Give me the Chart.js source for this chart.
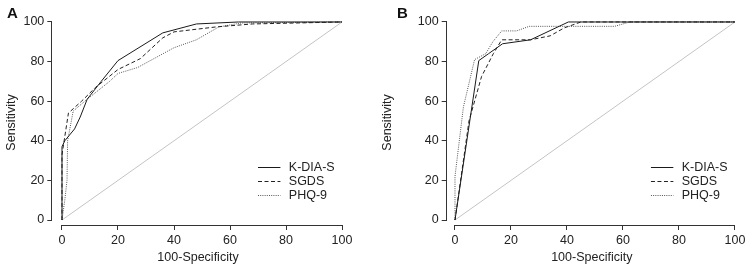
<!DOCTYPE html>
<html><head><meta charset="utf-8">
<script src="https://cdn.jsdelivr.net/npm/chart.js@4"></script>
<style>
html,body{margin:0;padding:0;background:#fff;}
#wrap{position:relative;width:752px;height:272px;overflow:hidden;background:#fff;}
.panel{position:absolute;top:0;width:376px;height:272px;}
.lab{position:absolute;font:bold 15px "Liberation Sans",Arial,sans-serif;color:#111;line-height:15px;}
</style></head><body>
<div id="wrap">
<div class="panel" style="left:0"><canvas id="cA" width="376" height="272"></canvas></div>
<div class="panel" style="left:376px"><canvas id="cB" width="376" height="272"></canvas></div>
<div class="lab" style="left:7px;top:5px">A</div>
<div class="lab" style="left:397px;top:5px">B</div>
</div>
<script>
// ---- data ----
const seriesNames = ['K-DIA-S', 'SGDS', 'PHQ-9'];
const xTicks = [0, 20, 40, 60, 80, 100];
const yTicks = [0, 20, 40, 60, 80, 100];
const xTitle = '100-Specificity';
const yTitle = 'Sensitivity';

// Panel A
const aKdiaX = [0, 0, 1, 4.5, 6.5, 9, 14, 20, 36, 48, 63, 100];
const aKdiaY = [0, 37, 40, 46, 52, 61, 70, 80.5, 94.5, 99, 100, 100];
const aSgdsX = [0, 0, 2.3, 7, 12, 20, 28, 36, 40, 55, 68, 100];
const aSgdsY = [0, 33, 54, 60, 67, 76, 81.5, 92, 95, 97.5, 99, 100];
const aPhqX = [0, 1, 1.8, 2, 4, 9, 17, 20, 27, 40, 48, 56, 64, 100];
const aPhqY = [0, 10, 20, 40, 55, 61, 70, 74, 77, 87, 91, 97.5, 99.5, 100];

// Panel B
const bKdiaX = [0, 8.5, 12, 17, 27, 40.5, 100];
const bKdiaY = [0, 80.5, 84, 89, 91, 100, 100];
const bSgdsX = [0, 5, 9.5, 13.7, 16.7, 27, 34, 39, 45, 100];
const bSgdsY = [0, 50, 72.5, 84, 91, 91, 93, 97, 100, 100];
const bPhqX = [0, 0, 3, 7, 11, 13.5, 16.7, 22, 26.5, 57, 62.5, 100];
const bPhqY = [0, 22, 57, 81, 84, 90, 95.5, 95.5, 97.8, 97.8, 100, 100];

const diagX = [0, 100];
const diagY = [0, 100];

// ---- helpers ----
const pts = (xs, ys) => xs.map((x, i) => ({x: x, y: ys[i]}));
Chart.defaults.font.family = '"Liberation Sans", Arial, Helvetica, sans-serif';
Chart.defaults.color = '#222';

const lineStyles = [
  {borderColor: '#1a1a1a', borderDash: []},
  {borderColor: '#222', borderDash: [4, 2.5]},
  {borderColor: '#555', borderDash: [1, 1.2]}
];

const rPlugin = {
  id: 'rStyle',
  afterDraw(chart) {
    const {ctx, chartArea, scales} = chart;
    const x = scales.x, y = scales.y;
    ctx.save();
    ctx.strokeStyle = '#333';
    ctx.lineWidth = 1;
    ctx.setLineDash([]);
    const lx = Math.round(chartArea.left) - 0.5;
    const by = Math.round(chartArea.bottom) + 0.5;
    ctx.beginPath();
    ctx.moveTo(lx, y.getPixelForValue(yTicks[0]));
    ctx.lineTo(lx, y.getPixelForValue(yTicks[yTicks.length - 1]));
    ctx.moveTo(x.getPixelForValue(xTicks[0]), by);
    ctx.lineTo(x.getPixelForValue(xTicks[xTicks.length - 1]), by);
    ctx.stroke();
    // legend
    const ds = chart.data.datasets.filter(d => seriesNames.includes(d.label));
    const x0 = x.getPixelForValue(70), x1 = x.getPixelForValue(78);
    const tx = x.getPixelForValue(81);
    const y0 = y.getPixelForValue(26.8);
    ctx.font = '12.5px "Liberation Sans", Arial, sans-serif';
    ctx.textBaseline = 'middle';
    ctx.textAlign = 'left';
    ds.forEach((d, i) => {
      const yy = Math.round(y0 + i * 14) + 0.5;
      ctx.strokeStyle = d.borderColor;
      ctx.setLineDash(d.borderDash || []);
      ctx.beginPath();
      ctx.moveTo(x0, yy);
      ctx.lineTo(x1, yy);
      ctx.stroke();
      ctx.fillStyle = '#222';
      ctx.fillText(d.label, tx, yy);
    });
    ctx.restore();
  }
};

function makeChart(id, series, cfg) {
  const datasets = series.map((s, i) => Object.assign({
    label: seriesNames[i],
    data: s,
    borderWidth: 1,
    pointRadius: 0,
    tension: 0,
    fill: false,
    clip: false
  }, lineStyles[i]));
  datasets.push({
    label: 'reference',
    data: pts(diagX, diagY),
    borderColor: '#c4c4c4',
    borderWidth: 1,
    pointRadius: 0,
    tension: 0,
    fill: false
  });
  return new Chart(document.getElementById(id), {
    type: 'line',
    data: {datasets: datasets},
    options: {
      responsive: false,
      animation: false,
      layout: {padding: {left: 0, top: cfg.top, right: cfg.right, bottom: 0}},
      plugins: {legend: {display: false}, tooltip: {enabled: false}},
      scales: {
        x: {
          type: 'linear',
          min: cfg.xmin, max: cfg.xmax,
          afterBuildTicks: s => { s.ticks = xTicks.map(v => ({value: v})); },
          afterFit: s => { s.height = 47; s.paddingLeft = 0; s.paddingRight = 0; },
          grid: {drawOnChartArea: false, drawTicks: true, tickLength: 5, color: '#333'},
          border: {display: false},
          ticks: {padding: 3, color: '#222', font: {size: 12.5}, maxRotation: 0, autoSkip: false},
          title: {display: true, text: xTitle, color: '#222', font: {size: 12.5}, padding: {top: 0, bottom: 6.5}}
        },
        y: {
          type: 'linear',
          min: cfg.ymin, max: cfg.ymax,
          afterBuildTicks: s => { s.ticks = yTicks.map(v => ({value: v})); },
          afterFit: s => { s.width = cfg.yw; s.paddingTop = 0; s.paddingBottom = 0; },
          grid: {drawOnChartArea: false, drawTicks: true, tickLength: 5, color: '#333'},
          border: {display: false},
          ticks: {padding: 3, color: '#222', font: {size: 12.5}, autoSkip: false},
          title: {display: true, text: yTitle, color: '#222', font: {size: 12.5}, padding: {top: 4.2, bottom: 0}}
        }
      }
    },
    plugins: [rPlugin]
  });
}

makeChart('cA', [pts(aKdiaX, aKdiaY), pts(aSgdsX, aSgdsY), pts(aPhqX, aPhqY)],
  {top: 20, right: 32.3, yw: 52.3, xmin: -3.46, xmax: 100.6, ymin: -2.525, ymax: 101});
makeChart('cB', [pts(bKdiaX, bKdiaY), pts(bSgdsX, bSgdsY), pts(bPhqX, bPhqY)],
  {top: 20, right: 15.1, yw: 70.7, xmin: -2.96, xmax: 100.7, ymin: -2.525, ymax: 101});
</script>
</body></html>
